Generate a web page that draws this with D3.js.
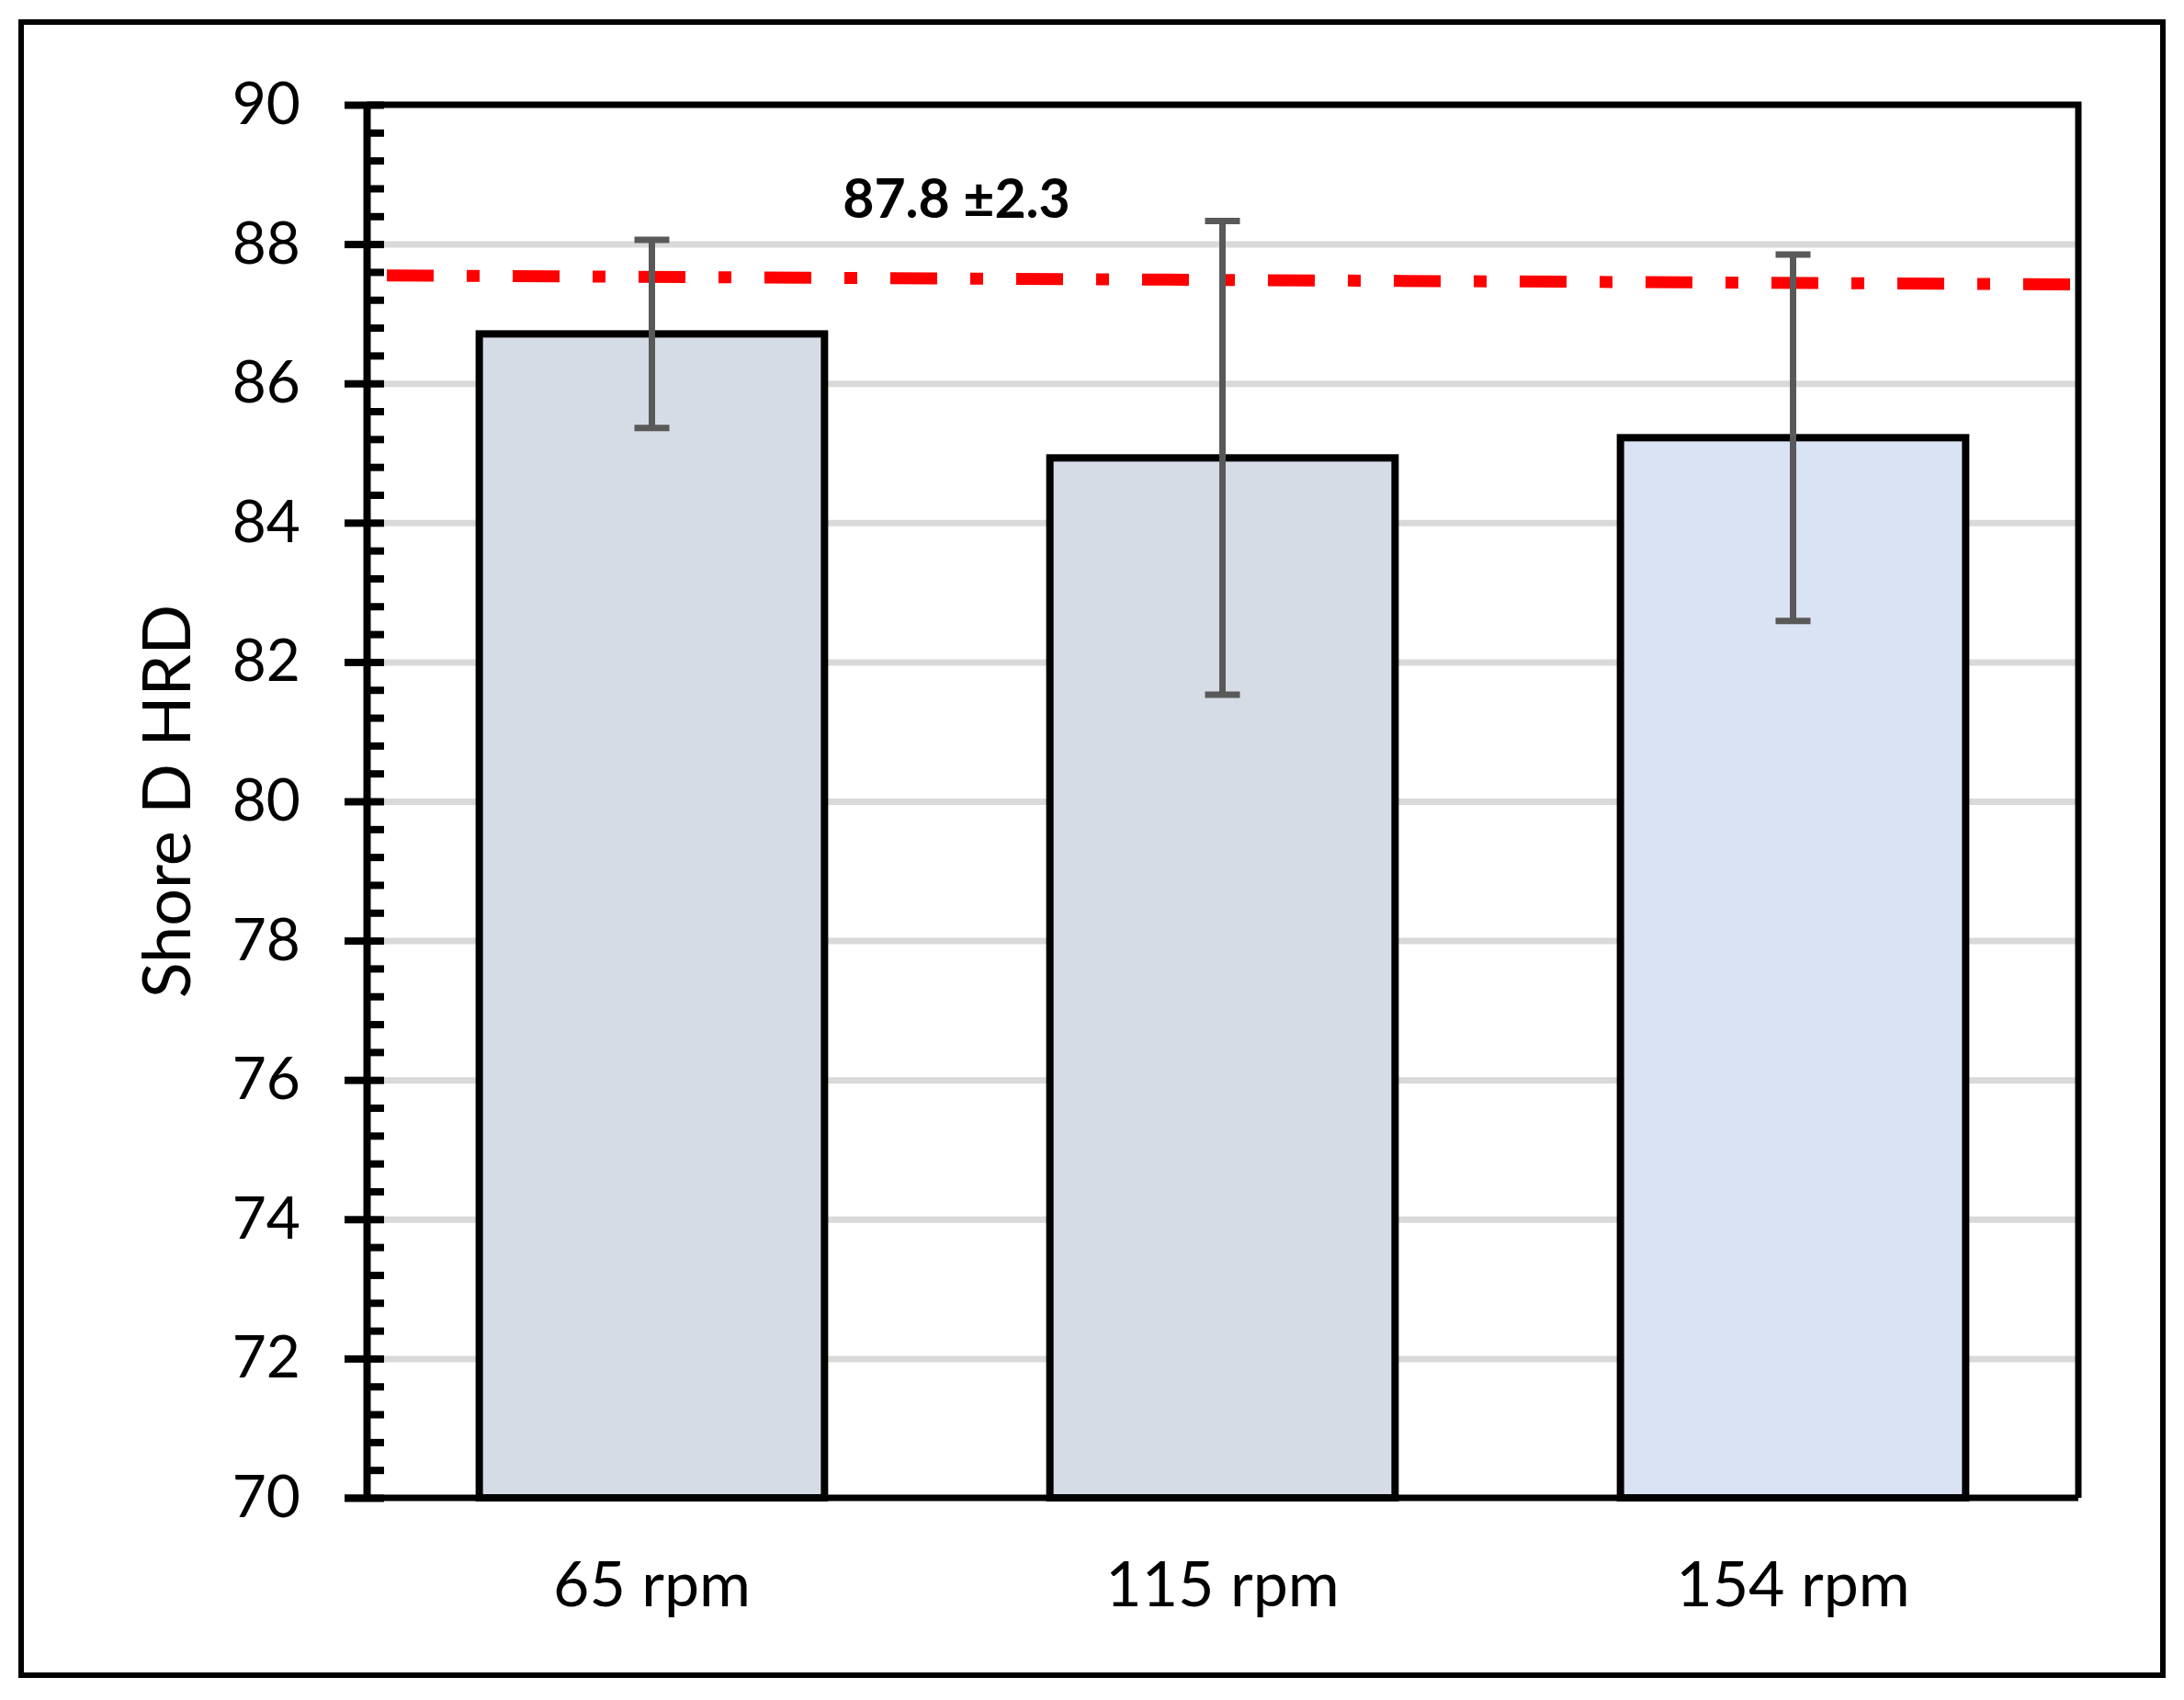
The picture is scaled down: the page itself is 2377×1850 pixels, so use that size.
<!DOCTYPE html>
<html>
<head>
<meta charset="utf-8">
<script src="https://cdn.jsdelivr.net/npm/d3@7"></script>
<style>
  body { margin: 0; background: #fff; }
  svg { display: block; font-family: Lato, 'Noto Sans', sans-serif; }
</style>
</head>
<body>
<div class="chart-container"></div>
<script>
// values
const categories = ['65 rpm', '115 rpm', '154 rpm']
const means = [86.71, 84.93, 85.22]
const errors = [1.35, 3.4, 2.63]
const barFills = ['#d6dce5', '#d6dce5', '#dae3f3']
const majorTicks = [70, 72, 74, 76, 78, 80, 82, 84, 86, 88, 90]
const refLine = [87.55, 87.42]   // left end, right end
const refLabel = '87.8 ±2.3'
const yTitle = 'Shore D HRD'

const width = 2377,
    height = 1850
const margin = { top: 114, right: 115, bottom: 220, left: 399 }

const svg = d3.select('.chart-container').append('svg')
    .attr('width', width)
    .attr('height', height)

// outer frame
svg.append('rect')
    .attr('x', 23).attr('y', 24)
    .attr('width', 2331).attr('height', 1799)
    .attr('fill', 'none')
    .attr('stroke', '#000')
    .attr('stroke-width', 6)

const x = d3.scaleBand()
    .domain(categories)
    .range([margin.left, width - margin.right])
    .paddingInner(0.395)
    .paddingOuter(0.1975)

const y = d3.scaleLinear()
    .domain([70, 90])
    .range([height - margin.bottom, margin.top])

const plotW = x.range()[1] - x.range()[0]

// gridlines
svg.append('g')
    .attr('transform', `translate(${margin.left},0)`)
    .call(d3.axisLeft(y).tickValues(majorTicks.slice(1, -1)).tickSize(-plotW).tickFormat(''))
    .call(g => g.select('.domain').remove())
    .call(g => g.selectAll('line').attr('stroke', '#d9d9d9').attr('stroke-width', 7))

// bars
svg.selectAll('.bar')
    .data(categories)
    .enter()
    .append('rect')
    .classed('bar', true)
    .attr('x', d => x(d))
    .attr('y', (d, i) => y(means[i]))
    .attr('width', x.bandwidth())
    .attr('height', (d, i) => y(70) - y(means[i]))
    .attr('fill', (d, i) => barFills[i])
    .attr('stroke', '#000')
    .attr('stroke-width', 8)

// reference line (dash-dot)
svg.append('line')
    .attr('x1', x.range()[0])
    .attr('x2', x.range()[1])
    .attr('y1', y(refLine[0]))
    .attr('y2', y(refLine[1]))
    .attr('stroke', '#ff0000')
    .attr('stroke-width', 13)
    .attr('stroke-dasharray', '51 36 14 36')
    .attr('stroke-dashoffset', 115)

svg.append('text')
    .text(refLabel)
    .attr('x', 1041)
    .attr('y', 237)
    .attr('text-anchor', 'middle')
    .attr('font-size', 59)
    .attr('font-weight', 'bold')

// error bars
const err = svg.selectAll('.err')
    .data(categories)
    .enter()
    .append('g')
    .classed('err', true)
    .attr('stroke', '#595959')
    .attr('stroke-width', 7)

err.append('line')
    .attr('x1', d => x(d) + x.bandwidth() / 2)
    .attr('x2', d => x(d) + x.bandwidth() / 2)
    .attr('y1', (d, i) => y(means[i] + errors[i]))
    .attr('y2', (d, i) => y(means[i] - errors[i]))

err.selectAll('.cap')
    .data((d, i) => [means[i] + errors[i], means[i] - errors[i]].map(v => ({ c: d, v: v })))
    .enter()
    .append('line')
    .attr('x1', d => x(d.c) + x.bandwidth() / 2 - 19)
    .attr('x2', d => x(d.c) + x.bandwidth() / 2 + 19)
    .attr('y1', d => y(d.v))
    .attr('y2', d => y(d.v))

// plot border top and right
svg.append('path')
    .attr('d', `M${margin.left},${y(90)}H${x.range()[1]}V${y(70)}`)
    .attr('fill', 'none')
    .attr('stroke', '#000')
    .attr('stroke-width', 7)

// x axis
svg.append('g')
    .attr('transform', `translate(0,${y(70)})`)
    .call(d3.axisBottom(x).tickSize(0).tickPadding(70))
    .call(g => g.select('.domain').remove())
    .call(g => g.selectAll('text').attr('font-size', 68).attr('font-family', 'Lato').attr('fill', '#000'))

svg.append('line')
    .attr('x1', margin.left - 24)
    .attr('x2', x.range()[1])
    .attr('y1', y(70))
    .attr('y2', y(70))
    .attr('stroke', '#000')
    .attr('stroke-width', 7)

// y axis: minor ticks inside, major ticks crossing
const minorTicks = d3.range(0, 51).map(i => 70 + i * 0.4)

svg.append('g')
    .attr('transform', `translate(${margin.left},0)`)
    .call(d3.axisRight(y).tickValues(minorTicks).tickSize(19).tickSizeOuter(0).tickFormat(''))
    .call(g => g.select('.domain').attr('stroke-width', 8))
    .call(g => g.selectAll('line').attr('stroke-width', 8))

svg.append('g')
    .attr('transform', `translate(${margin.left},0)`)
    .call(d3.axisLeft(y).tickValues(majorTicks).tickSize(24).tickSizeOuter(0).tickPadding(48).tickFormat(d3.format('d')))
    .call(g => g.select('.domain').remove())
    .call(g => g.selectAll('line').attr('stroke-width', 8))
    .call(g => g.selectAll('text').attr('font-size', 64).attr('font-family', 'Lato').attr('fill', '#000'))

// y title
svg.append('text')
    .text(yTitle)
    .attr('transform', `translate(207,${(y(70) + y(90)) / 2}) rotate(-90)`)
    .attr('text-anchor', 'middle')
    .attr('font-size', 72)
</script>
</body>
</html>
